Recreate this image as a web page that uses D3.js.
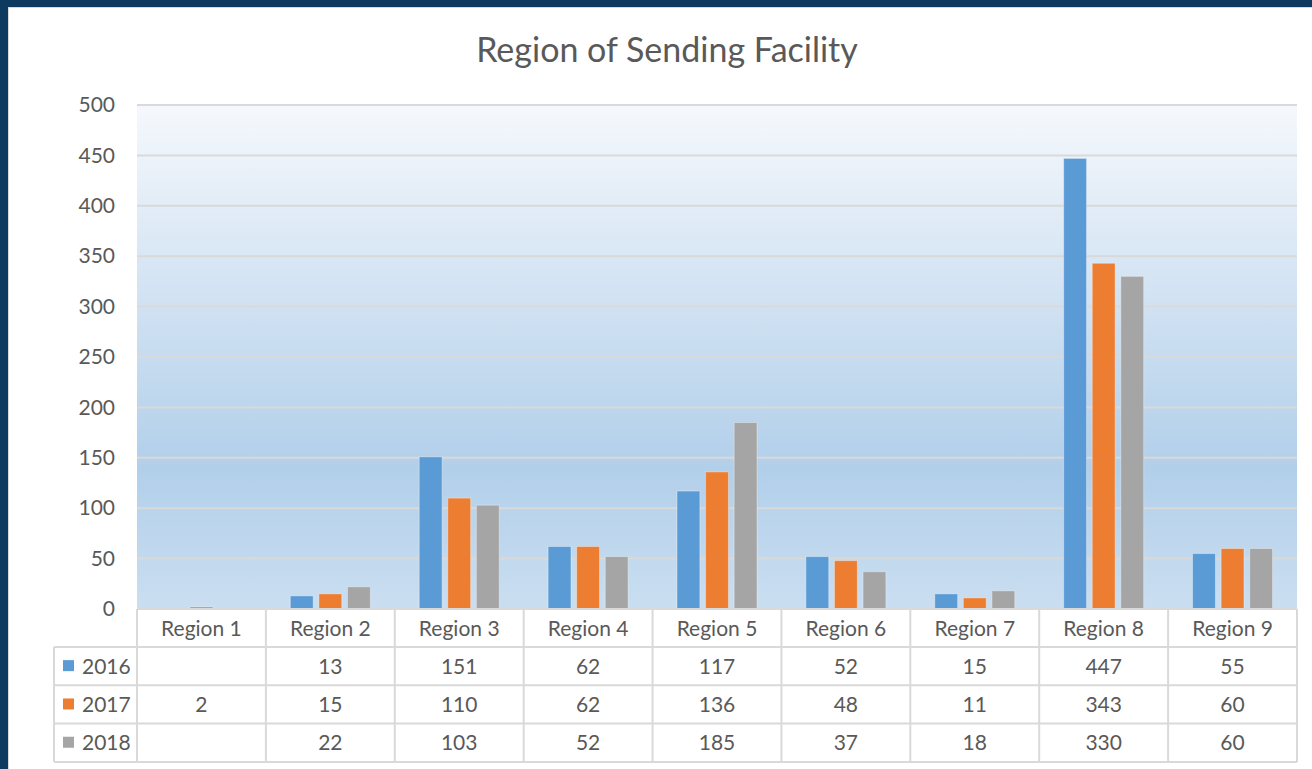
<!DOCTYPE html>
<html lang="en">
<head>
<meta charset="utf-8">
<title>Region of Sending Facility</title>
<script src="https://cdn.jsdelivr.net/npm/d3@7"></script>
<style>
  html, body { margin: 0; padding: 0; background: #0f3a60; }
  svg { display: block; }
  text { font-family: Lato, "Open Sans", sans-serif; fill: #595959; }
</style>
</head>
<body>
<svg width="1312" height="769"></svg>
<script>
// data
var regions = ["Region 1", "Region 2", "Region 3", "Region 4", "Region 5", "Region 6", "Region 7", "Region 8", "Region 9"];
var years = ["2016", "2017", "2018"];
var v2016 = [null, 13, 151, 62, 117, 52, 15, 447, 55];
var v2017 = [2, 15, 110, 62, 136, 48, 11, 343, 60];
var v2018 = [null, 22, 103, 52, 185, 37, 18, 330, 60];
var yTicks = [0, 50, 100, 150, 200, 250, 300, 350, 400, 450, 500];
var colors = ["#5b9bd5", "#ed7d31", "#a5a5a5"];

var series = [v2016, v2017, v2018];

var svg = d3.select("svg");

// card
svg.append("rect").attr("x", 8.5).attr("y", 7.5).attr("width", 1310).attr("height", 770)
  .attr("fill", "#ffffff").attr("stroke", "#d9d9d9").attr("stroke-width", 1);

var plotL = 137, plotR = 1297, plotT = 105, plotB = 609;

var x = d3.scaleBand().domain(regions).range([plotL, plotR]).padding(0);
var groupW = 80;
var xi = d3.scaleBand().domain(years).range([0, groupW]).paddingInner(0.2);
var y = d3.scaleLinear().domain([0, 500]).range([plotB, plotT]);

// plot area gradient
var defs = svg.append("defs");
var grad = defs.append("linearGradient").attr("id", "bg").attr("x1", 0).attr("y1", 0).attr("x2", 0).attr("y2", 1);
grad.append("stop").attr("offset", "0%").attr("stop-color", "#f5f8fc");
grad.append("stop").attr("offset", "72%").attr("stop-color", "#b2cfea");
grad.append("stop").attr("offset", "100%").attr("stop-color", "#cadef0");

svg.append("rect").attr("x", plotL).attr("y", plotT).attr("width", plotR - plotL).attr("height", plotB - plotT)
  .attr("fill", "url(#bg)");

// grid lines
svg.append("g").selectAll("line").data(yTicks.filter(function (d) { return d > 0; })).enter()
  .append("line")
  .attr("x1", plotL).attr("x2", plotR)
  .attr("y1", function (d) { return y(d); }).attr("y2", function (d) { return y(d); })
  .attr("stroke", "#d9d9d9").attr("stroke-width", 2);

// y axis labels
var yAxis = d3.axisLeft(y).tickValues(yTicks).tickSize(0).tickPadding(0);
var yg = svg.append("g").attr("transform", "translate(115,0)").call(yAxis);
yg.select(".domain").remove();
yg.selectAll("text").style("font-size", "21px").style("font-family", "Lato, sans-serif").attr("fill", "#595959");

// bars
series.forEach(function (vals, s) {
  svg.append("g").selectAll("rect").data(regions).enter()
    .filter(function (d, i) { return vals[i] != null; })
    .append("rect")
    .attr("x", function (d) { return x(d) + (x.bandwidth() - groupW) / 2 + xi(years[s]); })
    .attr("width", xi.bandwidth())
    .attr("y", function (d) { return y(vals[regions.indexOf(d)]); })
    .attr("height", function (d) { return plotB - y(vals[regions.indexOf(d)]); })
    .attr("fill", colors[s])
    .attr("stroke", "#ffffff").attr("stroke-opacity", 0.35).attr("stroke-width", 1);
});

// title
svg.append("text").attr("x", 667).attr("y", 62).attr("text-anchor", "middle")
  .style("font-size", "34px").text("Region of Sending Facility");

// data table
var rowH = 38.3;
var headTop = plotB, headBot = 647;
var tbl = svg.append("g").attr("stroke", "#d9d9d9").attr("stroke-width", 2).attr("fill", "none");
var legendLeft = 54;

tbl.append("line").attr("x1", plotL).attr("x2", plotR).attr("y1", headTop).attr("y2", headTop);
[0, 1, 2, 3].forEach(function (r) {
  var yy = headBot + r * rowH;
  tbl.append("line").attr("x1", legendLeft).attr("x2", plotR).attr("y1", yy).attr("y2", yy);
});
tbl.append("line").attr("x1", legendLeft).attr("x2", legendLeft).attr("y1", headBot).attr("y2", headBot + 3 * rowH);
regions.forEach(function (d) {
  tbl.append("line").attr("x1", x(d)).attr("x2", x(d)).attr("y1", headTop).attr("y2", headBot + 3 * rowH);
});
tbl.append("line").attr("x1", plotR).attr("x2", plotR).attr("y1", headTop).attr("y2", headBot + 3 * rowH);

// header labels
svg.append("g").selectAll("text").data(regions).enter().append("text")
  .attr("x", function (d) { return x(d) + x.bandwidth() / 2; })
  .attr("y", (headTop + headBot) / 2 + 1)
  .attr("dy", "0.35em").attr("text-anchor", "middle")
  .style("font-size", "21px").text(function (d) { return d; });

// rows
series.forEach(function (vals, s) {
  var cy = headBot + s * rowH + rowH / 2;
  svg.append("rect").attr("x", 63).attr("y", cy - 6).attr("width", 11).attr("height", 11).attr("fill", colors[s]);
  svg.append("text").attr("x", 82).attr("y", cy).attr("dy", "0.35em")
    .style("font-size", "21px").text(years[s]);
  svg.append("g").selectAll("text").data(regions).enter().append("text")
    .attr("x", function (d) { return x(d) + x.bandwidth() / 2; })
    .attr("y", cy).attr("dy", "0.35em").attr("text-anchor", "middle")
    .style("font-size", "21px")
    .text(function (d, i) { return vals[i] == null ? "" : vals[i]; });
});
</script>
</body>
</html>
